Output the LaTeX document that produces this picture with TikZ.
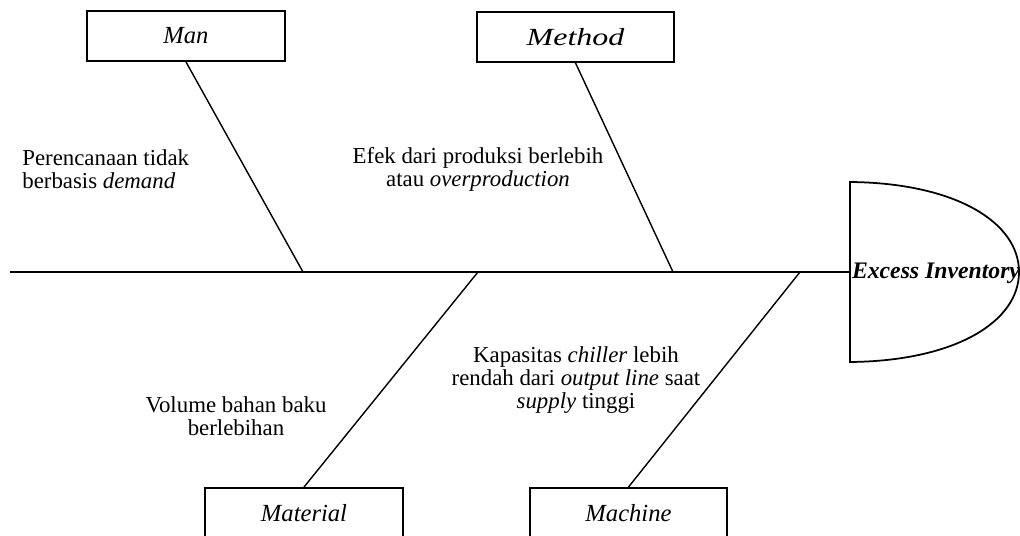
\documentclass[tikz,border=0pt]{standalone}
\usepackage{fontspec}
\setmainfont{Liberation Serif}
\begin{document}
\begin{tikzpicture}[x=0.02cm,y=-0.02cm,
  catbox/.style={draw, line width=1.1pt, minimum width=3.95cm, minimum height=1cm,
    inner sep=0pt, font=\fontsize{14}{14}\selectfont\itshape},
  cause/.style={inner sep=0pt, font=\fontsize{13}{13}\selectfont},
  bone/.style={line width=0.8pt},
  spine/.style={line width=1.1pt},
  headline/.style={line width=1pt}]
\useasboundingbox (0,0) rectangle (1020,536);
\clip (0,0) rectangle (1020,536);

% category boxes
\node[catbox] (man)      at (186,36)   {Man};
\node[catbox] (method)   at (575.5,37) {\scalebox{1.3}[1]{Method}};
\node[catbox] (material) at (304,513)  {Material};
\node[catbox] (machine)  at (628.5,513){Machine};

% spine and head
\coordinate (tail) at (10,272);
\coordinate (neck) at (850,272);
\coordinate (headtop) at (850,182);
\coordinate (headnose) at (1019,272);
\coordinate (headbottom) at (850,362);
\draw[spine] (tail) -- (neck);
\draw[headline] (headtop) .. controls (955,183) and (1019,222) .. (headnose)
  .. controls (1019,322) and (955,361) .. (headbottom) -- cycle;
\node[inner sep=0pt, font=\fontsize{13.5}{13.5}\selectfont\bfseries\itshape] (effect) at (936,273) {Excess Inventory};

% junctions on the spine
\coordinate (jman)      at (303,272);
\coordinate (jmaterial) at (478,272);
\coordinate (jmethod)   at (673,272);
\coordinate (jmachine)  at (800,272);

% bones
\draw[bone] (man.south) -- (jman);
\draw[bone] (method.south) -- (jmethod);
\draw[bone] (material.north) -- (jmaterial);
\draw[bone] (machine.north) -- (jmachine);

% causes
\node[cause, align=left, anchor=west] (cman) at (22,169)
  {Perencanaan tidak\\berbasis \textit{demand}};
\node[cause, align=center] (cmethod) at (478,169)
  {Efek dari produksi berlebih\\atau \textit{overproduction}};
\node[cause, align=center] (cmaterial) at (236,416)
  {Volume bahan baku\\berlebihan};
\node[cause, align=center] (cmachine) at (576,380)
  {Kapasitas \textit{chiller} lebih\\rendah dari \textit{output line} saat\\\textit{supply} tinggi};
\end{tikzpicture}
\end{document}
